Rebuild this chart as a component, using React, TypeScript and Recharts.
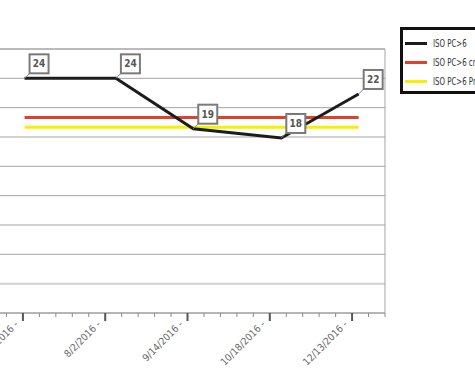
import React from "react";
import { LineChart, Line, XAxis, YAxis, CartesianGrid, ReferenceLine, LabelList } from "recharts";

const tickLabels = ["6/28/2016 -", "8/2/2016 -", "9/14/2016 -", "10/18/2016 -", "12/13/2016 -"];
const pointPositions = [0.02, 1.13, 2.07, 3.14, 4.08];
const isoValues = [24, 24, 18.85, 17.9, 22.4];
const critValues = [20, 20, 20, 20, 20];
const predValues = [19, 19, 19, 19, 19];
const seriesNames = ["ISO PC>6", "ISO PC>6 crit", "ISO PC>6 Pre"];
const seriesColors = ["#1c1c1c", "#dc4328", "#f4f000"];
const yTicks = [0, 3, 6, 9, 12, 15, 18, 21, 24, 27];

const data = pointPositions.map((p, i) => ({
  pos: p,
  iso: isoValues[i],
  crit: critValues[i],
  pred: predValues[i],
}));

const xTicks: number[] = [];
for (let i = -2; i <= 22; i++) xTicks.push(Math.round(i * 20) / 100);

const FONT = "'Liberation Sans Narrow', 'DejaVu Sans Condensed', 'Roboto', sans-serif";

const AxisTick = (props: any) => {
  const { x, y, payload } = props;
  const v = payload.value;
  const isMajor = Math.abs(v - Math.round(v)) < 1e-6;
  if (!isMajor) {
    return <line x1={x} y1={y} x2={x} y2={y + 4} stroke="#8a8a8a" strokeWidth={1} />;
  }
  const idx = Math.round(v);
  const label = tickLabels[idx] ?? "";
  return (
    <g>
      <line x1={x} y1={y} x2={x} y2={y + 8} stroke="#555" strokeWidth={2} />
      <text
        x={x - 4}
        y={y + 12}
        transform={`rotate(-45 ${x - 4} ${y + 12})`}
        textAnchor="end"
        fontSize={10}
        fontFamily={FONT}
        fill="#666"
      >
        {label}
      </text>
    </g>
  );
};

const PointLabel = (props: any) => {
  const { x, y, value } = props;
  if (x == null || y == null) return null;
  const bx = x + 5;
  const by = y - 24;
  return (
    <g>
      <line x1={x} y1={y} x2={bx} y2={y - 5} stroke="#888" strokeWidth={1} />
      <rect x={bx} y={by} width={19} height={19} fill="#fff" stroke="#7a7a7a" strokeWidth={2} />
      <text
        x={bx + 9.5}
        y={by + 13}
        textAnchor="middle"
        fontSize={10}
        fontWeight="bold"
        fontFamily={FONT}
        fill="#555"
      >
        {Math.round(value)}
      </text>
    </g>
  );
};

export default function App() {
  return (
    <div
      style={{
        position: "absolute",
        left: 0,
        top: 0,
        width: 475,
        height: 378,
        overflow: "hidden",
        background: "#fff",
      }}
    >
      <div style={{ position: "absolute", left: -40, top: 0 }}>
        <LineChart
          width={460}
          height={378}
          data={data}
          margin={{ top: 49, right: 35, bottom: 5, left: 30 }}
        >
          <CartesianGrid vertical={false} stroke="#a4a4a4" strokeWidth={1} />
          <XAxis
            dataKey="pos"
            type="number"
            domain={[-0.4, 4.4]}
            ticks={xTicks}
            interval={0}
            tick={<AxisTick />}
            tickLine={false}
            tickSize={0}
            tickMargin={0}
            height={60}
            stroke="#9a9a9a"
            allowDataOverflow
          />
          <YAxis hide domain={[0, 27]} ticks={yTicks} />
          <ReferenceLine y={27} stroke="#a4a4a4" strokeWidth={1} />
          <ReferenceLine y={3} stroke="#d2d2d2" strokeWidth={2} />
          <ReferenceLine x={4.4} stroke="#a4a4a4" strokeWidth={1} />
          <Line
            dataKey="crit"
            stroke={seriesColors[1]}
            strokeWidth={3}
            dot={false}
            isAnimationActive={false}
          />
          <Line
            dataKey="pred"
            stroke={seriesColors[2]}
            strokeWidth={3}
            dot={false}
            isAnimationActive={false}
          />
          <Line
            dataKey="iso"
            stroke={seriesColors[0]}
            strokeWidth={3}
            dot={false}
            isAnimationActive={false}
          >
            <LabelList dataKey="iso" content={<PointLabel />} />
          </Line>
        </LineChart>
      </div>
      <div
        style={{
          position: "absolute",
          left: 400,
          top: 27,
          width: 110,
          height: 61,
          border: "3px solid #111",
          background: "#fff",
          fontFamily: FONT,
          fontSize: 10.5,
          color: "#333",
        }}
      >
        {seriesNames.map((n, i) => (
          <div
            key={n}
            style={{
              position: "absolute",
              left: 2,
              top: 7 + i * 19,
              height: 12,
              width: 100,
              display: "flex",
              alignItems: "center",
              whiteSpace: "nowrap",
            }}
          >
            <div style={{ width: 22, height: 3, background: seriesColors[i], marginRight: 6, flexShrink: 0 }} />
            <span
              style={{
                display: "inline-block",
                transform: "scaleX(0.74)",
                transformOrigin: "left center",
              }}
            >
              {n}
            </span>
          </div>
        ))}
      </div>
    </div>
  );
}
